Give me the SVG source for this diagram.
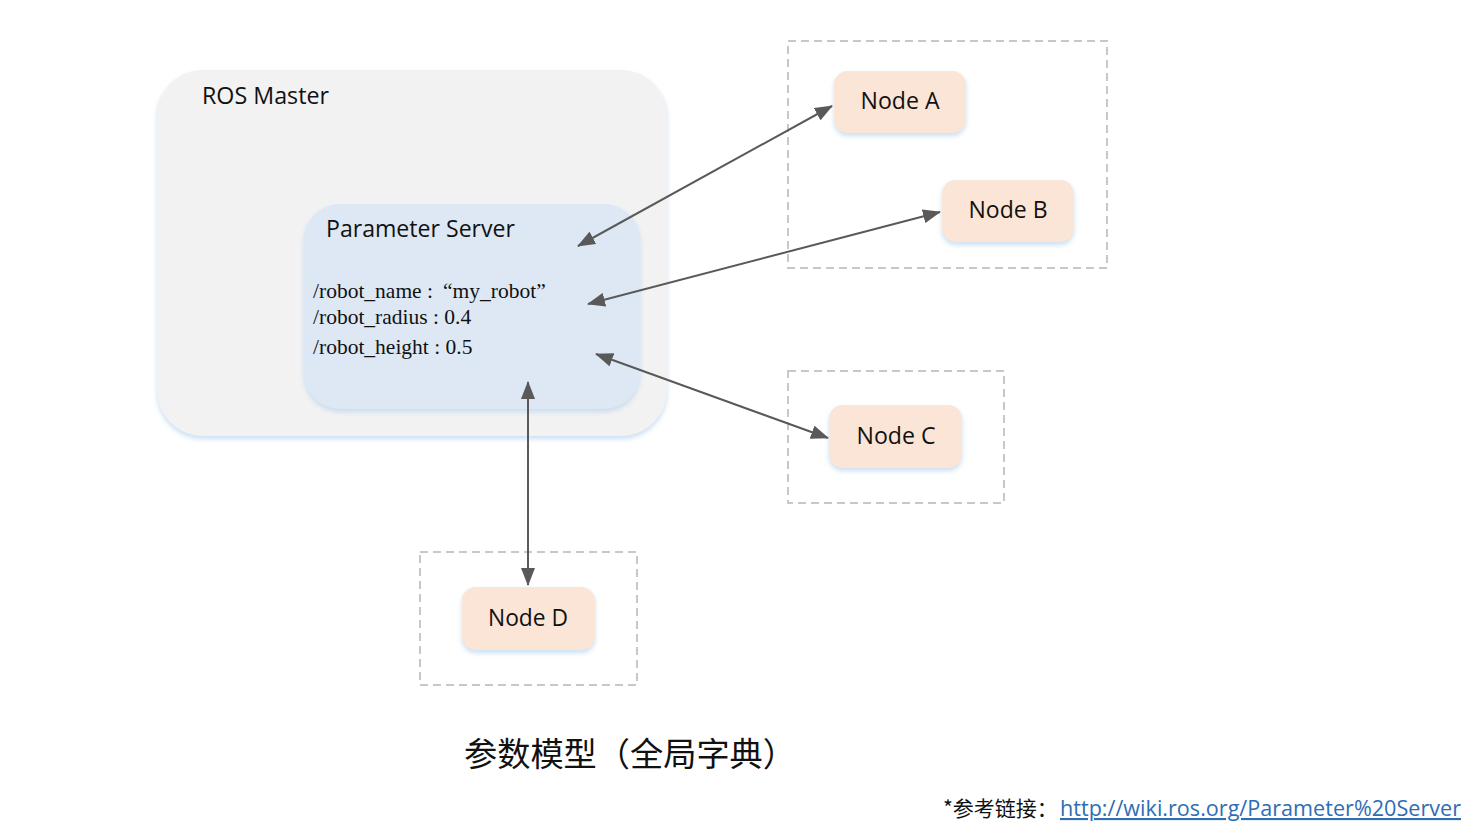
<svg xmlns="http://www.w3.org/2000/svg" width="1468" height="831" viewBox="0 0 1468 831">
<style>
.lbl{font-family:"Open Sans","Noto Sans","Liberation Sans",sans-serif;font-size:23px;fill:#111}
.node{fill:#fbe5d6}
.grp{fill:none;stroke:#c8c8c8;stroke-width:2;stroke-dasharray:8,5}
.par{font-family:"Liberation Serif","Times New Roman",serif;font-size:21.5px;fill:#111}
.conn{stroke:#595959;stroke-width:2;fill:none}
.cn{font-family:"Noto Sans CJK SC","Microsoft YaHei",sans-serif;fill:#111}
</style>
<defs>
<marker id="ah" viewBox="0 0 18 14" refX="17" refY="7" markerWidth="18" markerHeight="14" markerUnits="userSpaceOnUse" orient="auto-start-reverse">
<path d="M0,0 L18,7 L0,14 Z" fill="#595959"/>
</marker>
<filter id="sh" x="-10%" y="-10%" width="120%" height="130%">
<feDropShadow dx="0" dy="3" stdDeviation="2.5" flood-color="#bdd7ee" flood-opacity="0.8"/>
</filter>
</defs>
<rect width="1468" height="831" fill="#fff"/>
<g id="ros-master">
<rect x="157" y="70" width="510" height="366" rx="46" fill="#f2f2f2" filter="url(#sh)"/>
<text class="lbl" x="202" y="104" textLength="127" lengthAdjust="spacingAndGlyphs">ROS Master</text>
</g>
<g id="parameter-server">
<rect x="304" y="204" width="336" height="205" rx="36" fill="#dee8f4" filter="url(#sh)"/>
<text class="lbl" x="326" y="237" textLength="189" lengthAdjust="spacingAndGlyphs">Parameter Server</text>
<text class="par" x="313" y="298">/robot_name :<tspan x="443">“my_robot”</tspan></text>
<text class="par" x="313" y="324">/robot_radius : 0.4</text>
<text class="par" x="313" y="354">/robot_height : 0.5</text>
</g>
<g id="group-ab"><rect class="grp" x="788" y="41" width="319" height="227"/></g>
<g id="group-c"><rect class="grp" x="788" y="371" width="216" height="132"/></g>
<g id="group-d"><rect class="grp" x="420" y="552" width="217" height="133"/></g>
<g id="node-a">
<rect class="node" x="834" y="71" width="132" height="62" rx="14" filter="url(#sh)"/>
<text class="lbl" x="900" y="109" text-anchor="middle" textLength="79" lengthAdjust="spacingAndGlyphs">Node A</text>
</g>
<g id="node-b">
<rect class="node" x="942" y="180" width="132" height="62" rx="14" filter="url(#sh)"/>
<text class="lbl" x="1008" y="218" text-anchor="middle" textLength="79" lengthAdjust="spacingAndGlyphs">Node B</text>
</g>
<g id="node-c">
<rect class="node" x="829" y="405" width="133" height="63" rx="14" filter="url(#sh)"/>
<text class="lbl" x="896" y="444" text-anchor="middle" textLength="79" lengthAdjust="spacingAndGlyphs">Node C</text>
</g>
<g id="node-d">
<rect class="node" x="462" y="587" width="133" height="63" rx="14" filter="url(#sh)"/>
<text class="lbl" x="528" y="626" text-anchor="middle" textLength="80" lengthAdjust="spacingAndGlyphs">Node D</text>
</g>
<g id="connectors">
<line class="conn" x1="578" y1="246" x2="832" y2="106" marker-start="url(#ah)" marker-end="url(#ah)"/>
<line class="conn" x1="588" y1="304" x2="940" y2="212" marker-start="url(#ah)" marker-end="url(#ah)"/>
<line class="conn" x1="596" y1="354" x2="828" y2="438" marker-start="url(#ah)" marker-end="url(#ah)"/>
<line class="conn" x1="528" y1="382" x2="528" y2="585" marker-start="url(#ah)" marker-end="url(#ah)"/>
</g>
<text class="cn" x="464" y="766" font-size="33" textLength="332" lengthAdjust="spacingAndGlyphs">参数模型（全局字典）</text>
<text class="cn" x="943" y="816" font-size="21">*参考链接：</text>
<text x="1060" y="816" font-family="'Open Sans','Noto Sans','Liberation Sans',sans-serif" font-size="21" fill="#2e6db4" text-decoration="underline" textLength="401" lengthAdjust="spacingAndGlyphs">http://wiki.ros.org/Parameter%20Server</text>
</svg>
